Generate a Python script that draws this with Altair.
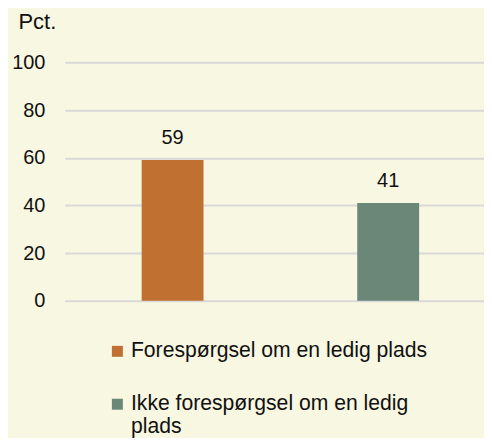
import altair as alt
import pandas as pd

categories = ["Forespørgsel om en ledig plads", "Ikke forespørgsel om en ledig plads"]
values = [59, 41]
colors = ["#C07030", "#6B8778"]
y_ticks = [0, 20, 40, 60, 80, 100]
y_title = "Pct."

df = pd.DataFrame({"kategori": categories, "pct": values})

FONT = "Liberation Sans"
BG = "#F8F7E1"

label_expr = (
    "datum.label == '" + categories[1] + "' ? ['Ikke forespørgsel om en ledig', 'plads'] : datum.label"
)

base = alt.Chart(df).encode(
    x=alt.X(
        "kategori:N",
        sort=categories,
        axis=None,
        scale=alt.Scale(paddingInner=0.713, paddingOuter=0.3285, align=0.542),
    ),
    y=alt.Y(
        "pct:Q",
        scale=alt.Scale(domain=[0, 100], nice=False),
        axis=alt.Axis(
            values=y_ticks,
            title=y_title,
            titleAngle=0,
            titleAlign="left",
            titleBaseline="alphabetic",
            titleX=-47,
            titleY=-34,
            titleFont=FONT,
            titleFontSize=22,
            titleFontWeight="normal",
            titleColor="#111111",
            labelFont=FONT,
            labelFontSize=20,
            labelColor="#111111",
            labelPadding=20,
            ticks=False,
            domain=False,
            grid=True,
            gridColor="#D9D9D9",
            gridWidth=2,
        ),
    ),
)

bars = base.mark_bar().encode(
    color=alt.Color(
        "kategori:N",
        sort=categories,
        scale=alt.Scale(domain=categories, range=colors),
        legend=alt.Legend(
            title=None,
            orient="none",
            legendX=42,
            legendY=279,
            direction="vertical",
            symbolType="square",
            symbolSize=121,
            symbolStrokeWidth=0,
            symbolOpacity=1,
            labelFont=FONT,
            labelFontSize=21.2,
            labelColor="#111111",
            labelLimit=400,
            labelOffset=3,
            labelExpr=label_expr,
            rowPadding=31,
            padding=0,
        ),
    )
)

texts = base.mark_text(
    baseline="alphabetic", dy=-16, font=FONT, fontSize=20, color="#111111"
).encode(text=alt.Text("pct:Q"))

chart = (
    alt.layer(bars, texts)
    .properties(
        width=420,
        height=239,
        background=BG,
        padding={"left": 3, "top": 2, "right": 0, "bottom": 0},
    )
    .configure_view(strokeWidth=0)
    .configure_text(lineHeight=22)
    .configure_legend(labelBaseline="middle")
)

chart.save("out.html", embed_options={"renderer": "svg", "actions": False})
